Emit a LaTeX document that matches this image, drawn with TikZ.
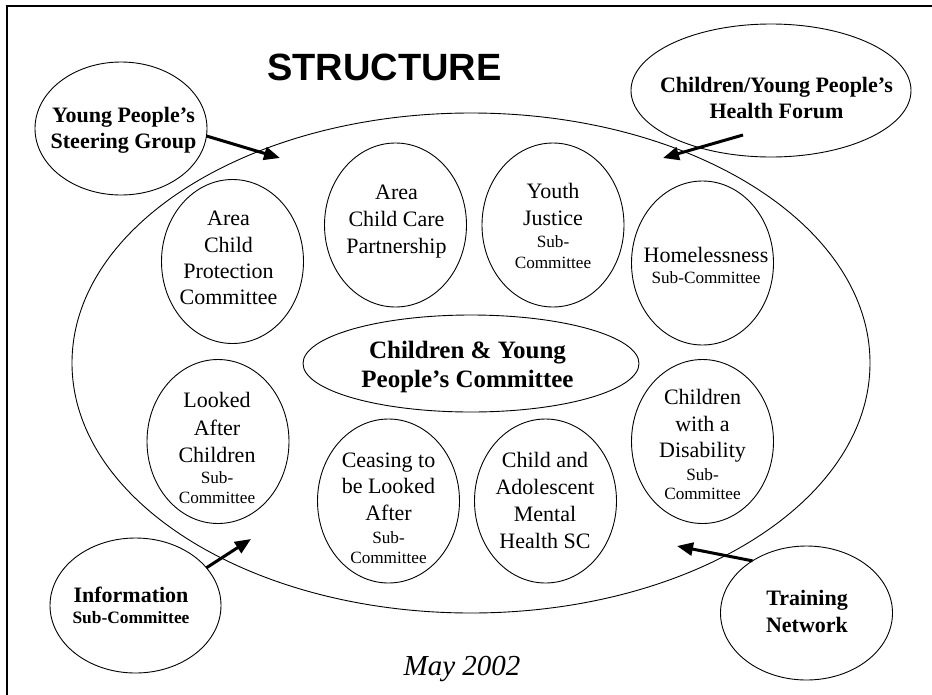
\documentclass[tikz,border=0pt]{standalone}
\usepackage{fontspec}
\setmainfont{Liberation Serif}
\newfontfamily\titlefont{Liberation Sans}
\usetikzlibrary{arrows.meta,shapes.geometric}
\tikzset{
  ell/.style={draw, ellipse, line width=0.9pt, inner sep=0pt, outer sep=0pt},
  subell/.style={ell, minimum width=142pt, minimum height=164pt},
  arr/.style={line width=3pt, -{Triangle[length=16pt,width=13pt]}},
  tx/.style={anchor=base, inner sep=0pt, outer sep=0pt},
  fm/.style={tx, font=\fontsize{22}{26}\selectfont},
  fs/.style={tx, font=\fontsize{17.2}{20}\selectfont},
  fb/.style={tx, font=\fontsize{22}{26}\selectfont\bfseries},
  fbs/.style={tx, font=\fontsize{17.4}{20}\selectfont\bfseries},
  fc/.style={tx, font=\fontsize{25}{29}\selectfont\bfseries},
  ftitle/.style={tx, font=\fontsize{38}{44}\selectfont\titlefont\bfseries},
  fdate/.style={tx, font=\fontsize{29}{34}\selectfont\itshape},
  frame/.style={line width=2pt}
}
\newcommand\tline[5]{\node[#4] (#1) at (#2,#3) {#5};}
\begin{document}
\begin{tikzpicture}[x=1pt,y=-1pt]
\useasboundingbox (0,0) rectangle (932,694);
% frame (top and left edges)
\draw[frame] (7,700) -- (7,6) -- (940,6);

% outer ellipse
\node[ell, minimum width=798pt, minimum height=500pt] (outer) at (471,363) {};

% satellite ellipses
\node[ell, minimum width=172pt, minimum height=133pt] (yp) at (121,128.5) {};
\node[ell, minimum width=280pt, minimum height=133pt] (hf) at (771,90.5) {};
\node[ell, minimum width=171pt, minimum height=135pt] (info) at (135.5,605.5) {};
\node[ell, minimum width=172pt, minimum height=134pt] (tn) at (806.5,613) {};

% inner ellipses
\node[subell] (acpc) at (232.5,261.5) {};
\node[subell] (accp) at (395.5,225) {};
\node[subell] (yj) at (553,225) {};
\node[subell] (hom) at (702.5,263) {};
\node[ell, minimum width=336pt, minimum height=97pt] (cyp) at (471,363.5) {};
\node[subell] (lac) at (218,441.5) {};
\node[subell] (ctb) at (388.5,501) {};
\node[subell] (camh) at (545.5,501) {};
\node[subell] (cwd) at (702.5,441.5) {};

% arrows
\coordinate (t1) at (280,158);
\coordinate (s2) at (743,135);
\coordinate (t2) at (663,158);
\coordinate (t3) at (251,539);
\coordinate (t4) at (677,546);
\draw[arr] (yp.-5) -- (t1);
\draw[arr] (s2) -- (t2);
\draw[arr] (info.28) -- (t3);
\draw[arr] (tn.136) -- (t4);

% texts
\tline{title}{384.5}{80.5}{ftitle}{STRUCTURE}
\tline{yp1}{123.5}{122}{fb}{Young People’s}
\tline{yp2}{123.5}{148}{fb}{Steering Group}
\tline{hf1}{776.5}{92}{fb}{Children/Young People’s}
\tline{hf2}{776.5}{118}{fb}{Health Forum}

\tline{acpc1}{228.5}{225}{fm}{Area}
\tline{acpc2}{228.5}{252}{fm}{Child}
\tline{acpc3}{228.5}{278}{fm}{Protection}
\tline{acpc4}{228.5}{304}{fm}{Committee}

\tline{accp1}{396.5}{199}{fm}{Area}
\tline{accp2}{396.5}{226}{fm}{Child Care}
\tline{accp3}{396.5}{253}{fm}{Partnership}

\tline{yj1}{553}{198}{fm}{Youth}
\tline{yj2}{553}{225}{fm}{Justice}
\tline{yj3}{553}{247}{fs}{Sub-}
\tline{yj4}{553}{268}{fs}{Committee}

\tline{hom1}{706}{262}{fm}{Homelessness}
\tline{hom2}{706}{283}{fs}{Sub-Committee}

\tline{cyp1}{467.5}{358}{fc}{Children \& Young}
\tline{cyp2}{467.5}{387}{fc}{People’s Committee}

\tline{lac1}{217}{407}{fm}{Looked}
\tline{lac2}{217}{435}{fm}{After}
\tline{lac3}{217}{462}{fm}{Children}
\tline{lac4}{217}{483}{fs}{Sub-}
\tline{lac5}{217}{503}{fs}{Committee}

\tline{ctb1}{388.5}{467}{fm}{Ceasing to}
\tline{ctb2}{388.5}{493}{fm}{be Looked}
\tline{ctb3}{388.5}{520}{fm}{After}
\tline{ctb4}{388.5}{543}{fs}{Sub-}
\tline{ctb5}{388.5}{563}{fs}{Committee}

\tline{camh1}{545}{467}{fm}{Child and}
\tline{camh2}{545}{494}{fm}{Adolescent}
\tline{camh3}{545}{521}{fm}{Mental}
\tline{camh4}{545}{548}{fm}{Health SC}

\tline{cwd1}{702.5}{404}{fm}{Children}
\tline{cwd2}{702.5}{431}{fm}{with a}
\tline{cwd3}{702.5}{457}{fm}{Disability}
\tline{cwd4}{702.5}{480}{fs}{Sub-}
\tline{cwd5}{702.5}{499}{fs}{Committee}

\tline{info1}{131}{602}{fb}{Information}
\tline{info2}{131}{623}{fbs}{Sub-Committee}

\tline{tn1}{807}{605}{fb}{Training}
\tline{tn2}{807}{632}{fb}{Network}

\tline{date}{462}{675}{fdate}{May 2002}
\end{tikzpicture}
\end{document}
